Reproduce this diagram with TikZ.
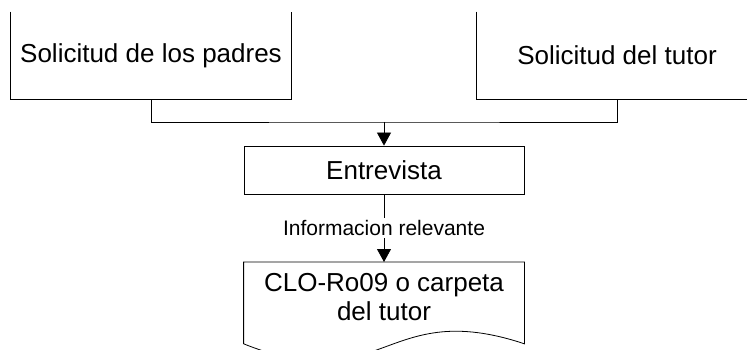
\documentclass[tikz,border=0pt]{standalone}
\usepackage{fontspec}
\setmainfont{Liberation Sans}
\usetikzlibrary{arrows.meta}
\begin{document}
\begin{tikzpicture}[x=1pt, y=-1pt, line width=0.8pt,
    caja/.style={minimum width=280pt, inner sep=0pt},
    texto/.style={font=\fontsize{26}{29}\selectfont, align=center},
    flecha/.style={-{Triangle[length=13pt,width=14pt]}}]
  \useasboundingbox (0,0) rectangle (747,350);
  \clip (0,0) rectangle (747,350);
  \node[caja, minimum height=87pt, texto] (padres) at (151,55.5) {Solicitud de los padres};
  \node[caja, minimum height=87pt, texto] (tutor) at (617,55.5) {Solicitud del tutor};
  \draw (padres.north west) -- (padres.south west) -- (padres.south east) -- (padres.north east);
  \draw (tutor.north west) -- (tutor.south west) -- (tutor.south east) -- (tutor.north east);
  \node[caja, minimum height=48pt, draw, texto] (entrevista) at (384,170) {Entrevista};
  \coordinate (junta) at (384,122);
  \draw (padres.south) |- (junta) -| (tutor.south);
  \draw[flecha] (junta) -- (entrevista.north);
  % documento
  \node[caja, minimum height=81pt, anchor=north] (carpeta) at (384,262) {};
  \node[texto] (carpetatexto) at (384,297) {CLO-Ro09 o carpeta\\del tutor};
  \draw (carpeta.south west) -- (carpeta.north west) -- (carpeta.north east) -- (carpeta.south east)
    .. controls (384,297) and (384,400) .. (carpeta.south west);
  \draw[flecha] (entrevista.south) -- node[fill=white, inner sep=2pt, font=\fontsize{21}{24}\selectfont] (info) {Informacion relevante} (carpeta.north);
\end{tikzpicture}
\end{document}
